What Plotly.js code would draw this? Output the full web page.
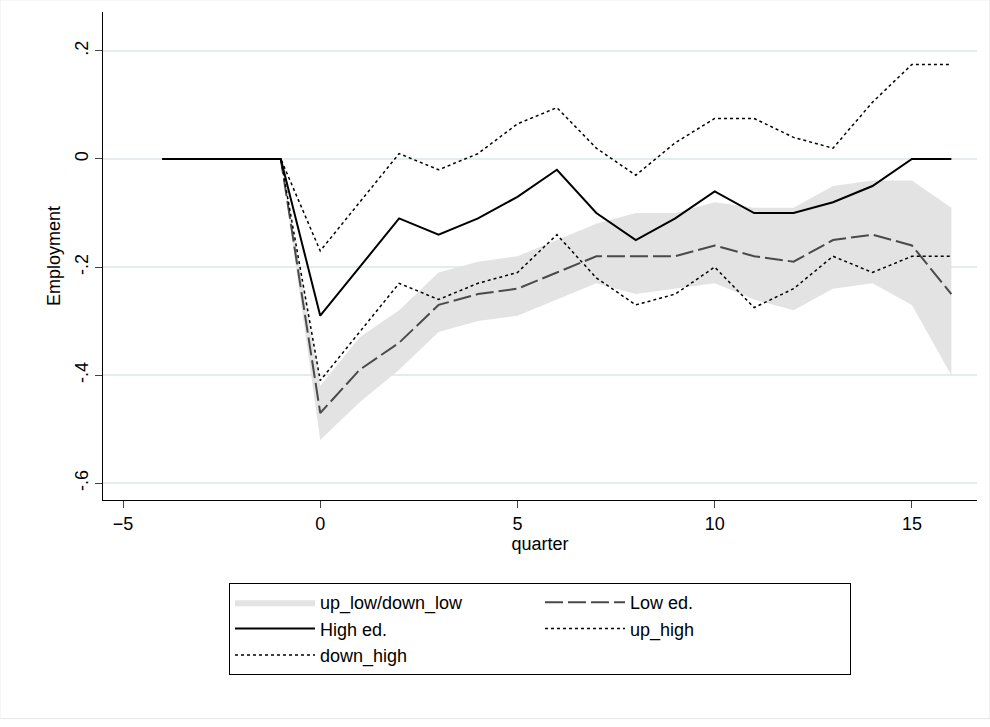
<!DOCTYPE html>
<html><head><meta charset="utf-8">
<script src="https://cdn.plot.ly/plotly-3.0.1.min.js"></script>
<style>html,body{margin:0;padding:0;background:#fff}#c{width:990px;height:727px}</style>
</head><body><div id="c"></div>
<script>
const quarter = [-4, -3, -2, -1, 0, 1, 2, 3, 4, 5, 6, 7, 8, 9, 10, 11, 12, 13, 14, 15, 16];
const highEd = [0, 0, 0, 0, -0.29, -0.2, -0.11, -0.14, -0.11, -0.07, -0.02, -0.10, -0.15, -0.11, -0.06, -0.10, -0.10, -0.08, -0.05, 0, 0];
const upHigh = [0, 0, 0, 0, -0.17, -0.08, 0.01, -0.02, 0.01, 0.065, 0.095, 0.02, -0.03, 0.03, 0.075, 0.075, 0.04, 0.02, 0.105, 0.175, 0.175];
const downHigh = [0, 0, 0, 0, -0.41, -0.32, -0.23, -0.26, -0.23, -0.21, -0.14, -0.22, -0.27, -0.25, -0.2, -0.275, -0.24, -0.18, -0.21, -0.18, -0.18];
const lowEd = [0, 0, 0, 0, -0.47, -0.39, -0.34, -0.27, -0.25, -0.24, -0.21, -0.18, -0.18, -0.18, -0.16, -0.18, -0.19, -0.15, -0.14, -0.16, -0.25];
const upLow = [0, 0, 0, 0, -0.42, -0.33, -0.28, -0.21, -0.19, -0.18, -0.15, -0.12, -0.10, -0.10, -0.08, -0.09, -0.09, -0.05, -0.04, -0.04, -0.09];
const downLow = [0, 0, 0, 0, -0.52, -0.45, -0.39, -0.32, -0.30, -0.29, -0.26, -0.23, -0.25, -0.24, -0.23, -0.26, -0.28, -0.24, -0.23, -0.27, -0.40];

const FONT = 'Liberation Sans, Arial, sans-serif';
const BAND = '#e3e3e3';

const traces = [
  { x: quarter, y: downLow, mode: 'lines', line: { width: 0 }, showlegend: false, hoverinfo: 'skip' },
  { x: quarter, y: upLow, mode: 'lines', line: { width: 0, color: BAND }, fill: 'tonexty', fillcolor: BAND, name: 'up_low/down_low' },
  { x: quarter, y: lowEd, mode: 'lines', name: 'Low ed.', line: { color: '#4a4a4a', width: 2, dash: '18px,5px' } },
  { x: quarter, y: highEd, mode: 'lines', name: 'High ed.', line: { color: '#000', width: 2 } },
  { x: quarter, y: upHigh, mode: 'lines', name: 'up_high', line: { color: '#000', width: 1.5, dash: 'dot' } },
  { x: quarter, y: downHigh, mode: 'lines', name: 'down_high', line: { color: '#000', width: 1.5, dash: 'dot' } },
];

const layout = {
  width: 990, height: 727,
  paper_bgcolor: '#fff', plot_bgcolor: '#fff',
  font: { family: FONT, size: 18, color: '#000' },
  margin: { l: 103, r: 13, t: 12, b: 227 },
  xaxis: {
    range: [-5.507, 16.65], tickvals: [-5, 0, 5, 10, 15], showgrid: false, zeroline: false,
    showline: true, linecolor: '#000', ticks: 'outside', ticklen: 7,
    title: { text: 'quarter', font: { size: 18 }, standoff: 2 },
  },
  yaxis: {
    range: [-0.631, 0.272], tickvals: [0.2, 0, -0.2, -0.4, -0.6], ticktext: ['.2', '0', '-.2', '-.4', '-.6'],
    tickangle: -90, gridcolor: '#e4ecee', gridwidth: 1.5, zeroline: false,
    showline: true, linecolor: '#000', ticks: 'outside', ticklen: 7,
    title: { text: 'Employment', font: { size: 18 }, standoff: 6 },
  },
  showlegend: true,
  legend: {
    orientation: 'h', x: 0.5, xanchor: 'center', y: -0.17, yanchor: 'top',
    entrywidth: 215, bordercolor: '#000', borderwidth: 1, bgcolor: '#fff',
    font: { size: 18 }, traceorder: 'normal', itemwidth: 80,
  },
  shapes: [{ type: 'rect', xref: 'paper', yref: 'paper', x0: -0.118, x1: 1.0148, y0: -0.448, y1: 1.025, line: { color: '#e6e6e6', width: 1 } }],
};

Plotly.newPlot('c', traces, layout, { displayModeBar: false });
</script></body></html>
